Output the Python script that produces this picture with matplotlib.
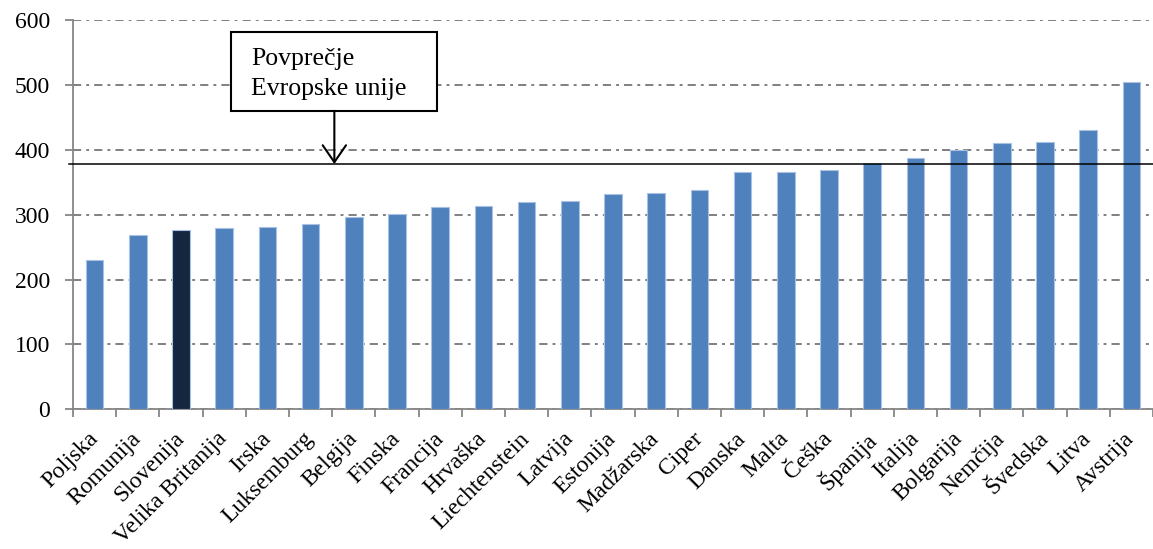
import matplotlib.pyplot as plt
from matplotlib.patches import Rectangle

countries = ["Poljska", "Romunija", "Slovenija", "Velika Britanija", "Irska",
             "Luksemburg", "Belgija", "Finska", "Francija", "Hrvaška",
             "Liechtenstein", "Latvija", "Estonija", "Madžarska", "Ciper",
             "Danska", "Malta", "Češka", "Španija", "Italija", "Bolgarija",
             "Nemčija", "Švedska", "Litva", "Avstrija"]
values = [230, 269, 277, 279, 281, 285, 297, 301, 311, 314, 319, 321, 332,
          333, 338, 365, 366, 369, 380, 388, 399, 411, 412, 431, 505]
eu_average = 378
highlight = "Slovenija"

plt.rcParams['font.family'] = ['Liberation Serif', 'DejaVu Serif']

fig = plt.figure(figsize=(11.53, 5.49), dpi=100)
ax = fig.add_axes([0.0633, 0.2545, 0.9367, 0.7091])

colors = ['#14273F' if c == highlight else '#4F81BD' for c in countries]
x = list(range(len(countries)))
ax.bar(x, values, width=0.41, color=colors, edgecolor='#A9C2E3', linewidth=0.8, zorder=3)

ax.set_ylim(0, 600)
ax.set_xlim(-0.5, len(countries) - 0.5)
ax.set_yticks(range(0, 601, 100))
ax.grid(axis='y', color='#808080', linewidth=1.4, linestyle=(0, (4.2, 2.6, 1.5, 2.6)), zorder=0)
ax.set_axisbelow(True)

for s in ['top', 'right']:
    ax.spines[s].set_visible(False)
for s in ['left', 'bottom']:
    ax.spines[s].set_color('#868686')
    ax.spines[s].set_linewidth(1.3)

ax.tick_params(axis='y', length=5.5, width=1.3, color='#868686', pad=11, labelsize=17)
ax.set_xticks([i - 0.5 for i in range(len(countries) + 1)])
ax.set_xticklabels([])
ax.tick_params(axis='x', which='major', length=5.5, width=1.3, color='#868686')
ax.set_xticks(x, minor=True)
ax.set_xticklabels(countries, minor=True, rotation=45, ha='right', va='center',
                   rotation_mode='anchor', fontsize=17)
ax.tick_params(axis='x', which='minor', length=0, pad=19)

ax.axhline(eu_average, color='black', linewidth=1.1, zorder=4, xmin=-0.004, clip_on=False)

# label box with arrow
box = Rectangle((3.15, 460), 4.78, 121, facecolor='white', edgecolor='black',
                linewidth=1.5, zorder=5)
ax.add_patch(box)
ax.text(3.62, 531, "Povprečje", fontsize=18.5, va='baseline', ha='left', zorder=6)
ax.text(3.62, 485, "Evropske unije", fontsize=18.5, va='baseline', ha='left', zorder=6)
ax.annotate("", xy=(5.55, eu_average), xytext=(5.55, 460),
            arrowprops=dict(arrowstyle='->,head_length=0.61,head_width=0.42',
                            color='black', lw=1.5, mutation_scale=20,
                            shrinkA=0, shrinkB=0),
            zorder=6)

fig.savefig('out.png', dpi=100)
